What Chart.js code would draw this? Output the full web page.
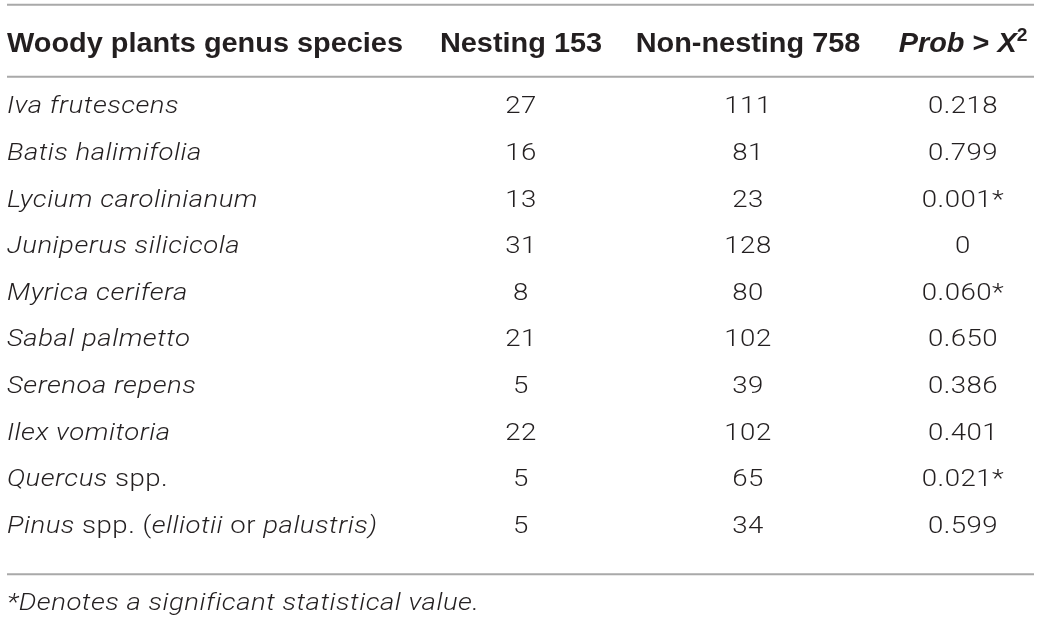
<!DOCTYPE html>
<html>
<head>
<meta charset="utf-8">
<script src="https://cdn.jsdelivr.net/npm/chart.js@4.4.1/dist/chart.umd.min.js"></script>
<style>
  html, body { margin: 0; padding: 0; background: #fff; }
  #tbl { display: block; }
</style>
</head>
<body>
<canvas id="tbl" width="1040" height="622"></canvas>
<script>
// Table data. Underscores mark italic runs, ^ marks a superscript digit.
const columnHeaders = ["Woody plants genus species", "Nesting 153", "Non-nesting 758", "_Prob_ > _X_^2"];
const speciesNames = [
  "_Iva frutescens_",
  "_Batis halimifolia_",
  "_Lycium carolinianum_",
  "_Juniperus silicicola_",
  "_Myrica cerifera_",
  "_Sabal palmetto_",
  "_Serenoa repens_",
  "_Ilex vomitoria_",
  "_Quercus_ spp.",
  "_Pinus_ spp. (_elliotii_ or _palustris)_"
];
const nestingCounts = [27, 16, 13, 31, 8, 21, 5, 22, 5, 5];
const nonNestingCounts = [111, 81, 23, 128, 80, 102, 39, 102, 65, 34];
const probValues = [0.218, 0.799, 0.001, 0, 0.060, 0.650, 0.386, 0.401, 0.021, 0.599];
const significant = [false, false, true, false, true, false, false, false, true, false];
const footnote = "_*Denotes a significant statistical value._";

// Layout / style (x positions of the column anchors on a 0..1040 scale)
const colAnchor = [7, 521, 748, 963];
const ruleLeft = 7, ruleRight = 1034;
const textColor = "#231f20";
const ruleColor = "#a9a9a9";
const headFont = { size: 27, weight: "bold", family: '"Liberation Sans", Arial, sans-serif', sx: 1.07, ls: 0 };
const bodyFont = { size: 23, weight: "300", family: 'Roboto, "Liberation Sans", sans-serif', sx: 1.2, ls: 0.4 };

function formatProb(v, sig) {
  const s = v === 0 ? "0" : v.toFixed(3);
  return sig ? s + "*" : s;
}

// split "a _b_ c^2" into runs {t, it, sup}
function parseRich(str) {
  const runs = [];
  str.split(/(_[^_]+_|\^\d)/).forEach(p => {
    if (!p) return;
    if (p[0] === "_" && p.length > 1 && p[p.length - 1] === "_") runs.push({ t: p.slice(1, -1), it: true });
    else if (p[0] === "^") runs.push({ t: p.slice(1), sup: true });
    else runs.push({ t: p });
  });
  return runs;
}

function fontStr(f, run) {
  const size = run.sup ? Math.round(f.size * 0.68) : f.size;
  return (run.it ? "italic " : "") + f.weight + " " + size + "px " + f.family;
}

function drawRich(ctx, str, x, y, align, f) {
  const runs = parseRich(str);
  let total = 0;
  ctx.letterSpacing = "0px";
  runs.forEach(r => {
    ctx.font = fontStr(f, r);
    r.w = (ctx.measureText(r.t).width + r.t.length * f.ls) * f.sx;
    total += r.w;
  });
  let cx = align === "center" ? x - total / 2 : x;
  runs.forEach(r => {
    ctx.font = fontStr(f, r);
    ctx.save();
    ctx.letterSpacing = f.ls + "px";
    ctx.translate(cx, r.sup ? y - f.size * 0.42 : y);
    ctx.scale(f.sx, 1);
    ctx.fillText(r.t, 0, 0);
    ctx.restore();
    cx += r.w;
  });
}

const tablePlugin = {
  id: "tableText",
  beforeDraw(chart) {
    const { ctx, chartArea } = chart;
    const x = chart.scales.x;
    ctx.save();
    ctx.strokeStyle = ruleColor;
    ctx.lineWidth = 2;
    [chartArea.top - 77, chartArea.top - 5, chartArea.bottom + 26].forEach(yy => {
      ctx.beginPath();
      ctx.moveTo(x.getPixelForValue(ruleLeft), yy);
      ctx.lineTo(x.getPixelForValue(ruleRight), yy);
      ctx.stroke();
    });
    ctx.restore();
  },
  afterDatasetsDraw(chart) {
    const { ctx, chartArea } = chart;
    const x = chart.scales.x, y = chart.scales.y;
    ctx.save();
    ctx.fillStyle = textColor;
    ctx.textBaseline = "alphabetic";
    ctx.textAlign = "left";
    const capMid = f => f.size * 0.355;

    // header row
    const headY = chartArea.top - 39 + capMid(headFont);
    columnHeaders.forEach((h, i) => {
      drawRich(ctx, h, x.getPixelForValue(colAnchor[i]), headY, i === 0 ? "left" : "center", headFont);
    });

    // species names from the category axis
    speciesNames.forEach((s, i) => {
      drawRich(ctx, s, x.getPixelForValue(colAnchor[0]), y.getPixelForValue(i) + capMid(bodyFont), "left", bodyFont);
    });

    // value cells, positioned by the dataset elements
    chart.data.datasets.forEach((ds, di) => {
      const meta = chart.getDatasetMeta(di);
      meta.data.forEach((pt, i) => {
        drawRich(ctx, ds.cellText[i], pt.x, pt.y + capMid(bodyFont), "center", bodyFont);
      });
    });

    // footnote
    drawRich(ctx, footnote, x.getPixelForValue(colAnchor[0]), chartArea.bottom + 54 + capMid(bodyFont), "left", bodyFont);
    ctx.restore();
  }
};

function column(values, anchor, texts) {
  return {
    data: values.map((v, i) => ({ x: anchor, y: i })),
    raw: values,
    cellText: texts,
    pointRadius: 0,
    pointHoverRadius: 0
  };
}

new Chart(document.getElementById("tbl"), {
  type: "scatter",
  data: {
    datasets: [
      column(nestingCounts, colAnchor[1], nestingCounts.map(String)),
      column(nonNestingCounts, colAnchor[2], nonNestingCounts.map(String)),
      column(probValues, colAnchor[3], probValues.map((v, i) => formatProb(v, significant[i])))
    ]
  },
  options: {
    responsive: false,
    animation: false,
    devicePixelRatio: 1,
    layout: { padding: { top: 81.7, bottom: 73.7, left: 0, right: 0 } },
    scales: {
      x: { type: "linear", min: 0, max: 1040, display: false },
      y: { type: "category", labels: speciesNames, offset: true, display: false }
    },
    plugins: { legend: { display: false }, tooltip: { enabled: false } }
  },
  plugins: [tablePlugin]
});
</script>
</body>
</html>
